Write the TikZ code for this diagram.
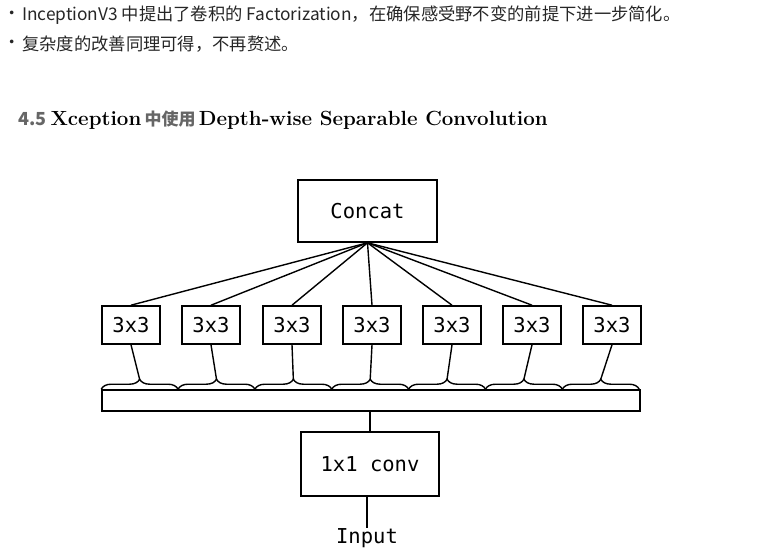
\documentclass[tikz,border=0pt]{standalone}
\usepackage{fontspec}
\setmainfont{Latin Modern Roman}
\newfontfamily\cjk{Noto Sans CJK SC}
\newfontfamily\dmono{DejaVu Sans Mono}
\usetikzlibrary{decorations.pathreplacing,calc}
\begin{document}
\begin{tikzpicture}[x=1pt,y=-1pt,
  box/.style={draw,line width=1.6pt,inner sep=0pt,font=\dmono\fontsize{20.5}{20.5}\selectfont},
  small/.style={box,minimum width=58pt,minimum height=38pt},
  ln/.style={line width=1.4pt},
  txt/.style={anchor=west,inner sep=0pt,font=\cjk\fontsize{17.3}{19}\selectfont,text=black!85}]
\useasboundingbox (0,0) rectangle (757,556);
\node[txt] (b1) at (3,15) {·};
\node[txt] (t1) at (22,15) {InceptionV3 中提出了卷积的 Factorization，在确保感受野不变的前提下进一步简化。};
\node[txt] (b2) at (3,44) {·};
\node[txt] (t2) at (22,44) {复杂度的改善同理可得，不再赘述。};
\node[anchor=west,inner sep=0pt] (h) at (18,120) {{\cjk\fontsize{18}{20}\selectfont\bfseries\color{black!60}4.5 }{\fontsize{20.5}{22}\selectfont\bfseries Xception} {\cjk\fontsize{17}{20}\selectfont\bfseries\color{black!60}中使用} {\fontsize{20.5}{22}\selectfont\bfseries Depth-wise Separable Convolution}};
\node[box,minimum width=139pt,minimum height=62pt] (concat) at (367.5,211) {Concat};
\foreach \i/\x in {1/131,2/211,3/292,4/372,5/452,6/532,7/612}{
  \node[small] (s\i) at (\x,325) {3x3};
  \draw[ln] (concat.south) -- (s\i.north);
}
\node[draw,line width=1.6pt,minimum width=538pt,minimum height=21pt,inner sep=0pt] (bar) at (371,400.5) {};
\foreach \i in {1,...,7}{
  \coordinate (L\i) at ($(bar.north west)+({(\i-1)*538/7},0)$);
  \coordinate (R\i) at ($(bar.north west)+({\i*538/7},0)$);
  \coordinate (T\i) at ($(bar.north west)+({(\i-0.5)*538/7},-10)$);
  \draw[ln,decorate,decoration={brace,amplitude=10pt}] (L\i) -- (R\i);
  \draw[ln] (s\i.south) -- (T\i);
}
\node[box,minimum width=138pt,minimum height=64pt] (conv) at (370,464) {1x1 conv};
\draw[ln] (bar.south -| conv.north) -- (conv.north);
\node[inner sep=0pt,font=\dmono\fontsize{20.5}{20.5}\selectfont] (in) at (367,538) {Input};
\draw[ln] (conv.south -| in.north) -- (in.north);
\end{tikzpicture}
\end{document}
